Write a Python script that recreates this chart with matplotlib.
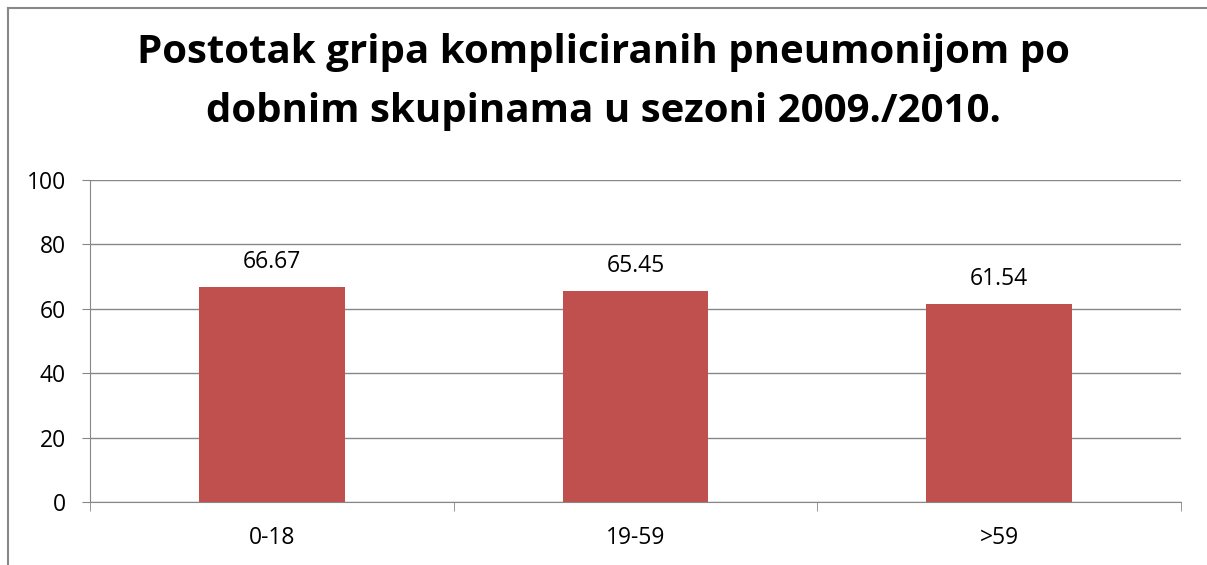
import matplotlib.pyplot as plt
from matplotlib.lines import Line2D

categories = ["0-18", "19-59", ">59"]
values = [66.67, 65.45, 61.54]
title_lines = ["Postotak gripa kompliciranih pneumonijom po",
               "dobnim skupinama u sezoni 2009./2010."]

plt.rcParams['font.family'] = ['Open Sans', 'DejaVu Sans']

W, H = 1207, 565
fig = plt.figure(figsize=(W / 100, H / 100), dpi=100)
ax = fig.add_axes([90 / W, 1 - 502 / H, (1181 - 90) / W, (502 - 180) / H])

x = range(len(categories))
ax.bar(x, values, width=0.4, color="#C0504D", zorder=3)
for i, v in zip(x, values):
    ax.text(i, v + 5.9, f"{v:.2f}", ha="center", va="baseline", fontsize=16.5)

ax.set_xlim(-0.5, 2.5)
ax.set_ylim(0, 100)
ax.set_yticks(range(0, 101, 20))
ax.set_xticks(list(x))
ax.set_xticklabels(categories)
ax.set_xticks([-0.5, 0.5, 1.5, 2.5], minor=True)
ax.tick_params(axis="x", which="major", length=0, labelsize=16.5, pad=17)
ax.tick_params(axis="x", which="minor", length=6.5, color="#878787", direction="out")
ax.tick_params(axis="y", length=5.5, color="#878787", labelsize=16.5, pad=12)
ax.yaxis.grid(True, color="#878787", linewidth=1, zorder=0)
for s in ["top", "right"]:
    ax.spines[s].set_visible(False)
for s in ["left", "bottom"]:
    ax.spines[s].set_color("#878787")

# two-line bold title
fig.text(603 / W, 1 - 63 / H, title_lines[0], ha="center", va="baseline",
         fontsize=29, fontweight="bold")
fig.text(603 / W, 1 - 122 / H, title_lines[1], ha="center", va="baseline",
         fontsize=29, fontweight="bold")

# outer chart frame
fig.add_artist(Line2D([8 / W, 8 / W], [0, 1 - 8 / H], color="#888888", lw=1.5))
fig.add_artist(Line2D([8 / W, 1], [1 - 8 / H, 1 - 8 / H], color="#888888", lw=1.5))

fig.savefig("out.png", dpi=100)
